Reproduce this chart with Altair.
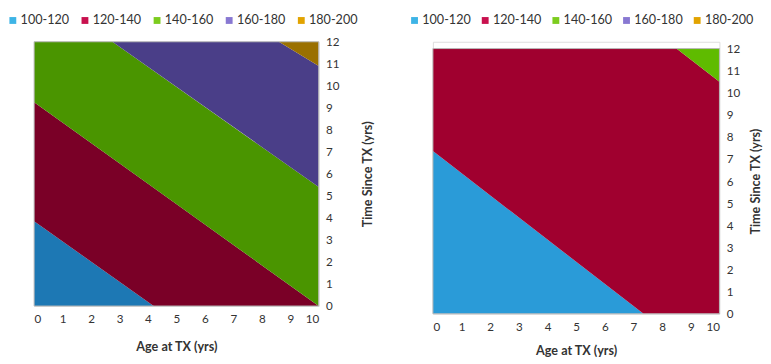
import altair as alt
import pandas as pd

CATEGORIES = ["100-120", "120-140", "140-160", "160-180", "180-200"]
LEGEND_COLORS = ["#3db4e6", "#c8104e", "#7ccc1e", "#8878d2", "#e2a300"]

# Left panel: band polygons as (x, lower, upper) vertices in data units
L_BAND = ["100-120", "100-120",
          "120-140", "120-140", "120-140",
          "140-160", "140-160", "140-160",
          "160-180", "160-180", "160-180",
          "180-200", "180-200"]
L_X = [0, 4.2,
       0, 4.2, 10,
       0, 2.75, 10,
       2.75, 8.6, 10,
       8.6, 10]
L_LO = [0, 0,
        3.85, 0, 0,
        9.25, 6.71, 0,
        12, 6.68, 5.4,
        12, 10.9]
L_HI = [3.85, 0,
        9.25, 5.37, 0,
        12, 12, 5.4,
        12, 12, 10.9,
        12, 12]
L_FILLS = ["#1d78b4", "#7a0027", "#4a9500", "#4a3e88", "#9a7000"]

# Right panel
R_BAND = ["100-120", "100-120",
          "120-140", "120-140", "120-140", "120-140",
          "140-160", "140-160"]
R_X = [0, 7.35,
       0, 7.35, 8.5, 10,
       8.5, 10]
R_LO = [0, 0,
        7.36, 0, 0, 0,
        12, 10.5]
R_HI = [7.36, 0,
        12, 12, 12, 10.5,
        12, 12]
R_FILLS = ["#2a9bd8", "#a0002f", "#5fbb00"]

X_TICKS = list(range(0, 11))
Y_TICKS = list(range(0, 13))
X_DOMAIN = [0, 10]
Y_DOMAIN = [0, 12]

FONT = "Lato"
TXT = "#333333"


def panel(bands, xs, los, his, fills, w, h, y_range, leg_range, leg_y,
          y_title_pad, x_title_pad):
    df = pd.DataFrame({"band": bands, "x": xs, "lo": los, "hi": his})
    dom = [c for c in CATEGORIES if c in set(bands)]
    xscale = alt.Scale(domain=X_DOMAIN, nice=False, zero=False)
    yscale = alt.Scale(domain=Y_DOMAIN, nice=False, zero=False, range=y_range)
    x_axis = alt.Axis(values=X_TICKS, ticks=False, domain=False, grid=False,
                      labelOverlap=False,
                      labelPadding=8, labelFontSize=12, labelColor=TXT,
                      labelFont=FONT, title="Age at TX (yrs)",
                      titleFont=FONT, titleFontSize=13, titleFontWeight="bold",
                      titleColor=TXT, titlePadding=x_title_pad)
    y_axis = alt.Axis(orient="right", values=Y_TICKS, ticks=False, domain=False,
                      grid=False, labelOverlap=False, labelPadding=7,
                      labelFontSize=12, labelColor=TXT, labelFont=FONT,
                      title="Time Since TX (yrs)", titleAngle=270,
                      titleBaseline="top",
                      titleFont=FONT, titleFontSize=13, titleFontWeight="bold",
                      titleColor=TXT, titlePadding=y_title_pad)
    areas = alt.Chart(df).mark_area(interpolate="linear").encode(
        x=alt.X("x:Q", scale=xscale, axis=x_axis),
        y=alt.Y("hi:Q", scale=yscale, axis=y_axis),
        y2="lo:Q",
        fill=alt.Fill("band:N", scale=alt.Scale(domain=dom, range=fills), legend=None),
        detail="band:N",
    )
    border = alt.Chart(pd.DataFrame({"k": [0]})).mark_rect(
        fill=None, stroke="#b8b8b8", strokeWidth=1
    ).encode(
        x=alt.XDatum(X_DOMAIN[0], scale=xscale, axis=x_axis),
        x2=alt.X2Datum(X_DOMAIN[1]),
        y=alt.YDatum(Y_DOMAIN[0], scale=yscale, axis=y_axis),
        y2=alt.Y2Datum(Y_DOMAIN[1]),
    )
    plot = alt.layer(areas, border)

    leg_df = pd.DataFrame({"band": CATEGORIES})
    leg_x = alt.X("band:N", sort=CATEGORIES,
                  scale=alt.Scale(type="point", domain=CATEGORIES, range=leg_range,
                                  padding=0),
                  axis=None)
    leg_sym = alt.Chart(leg_df).mark_square(size=50, opacity=1).encode(
        x=leg_x,
        y=alt.value(leg_y),
        color=alt.Color("band:N",
                        scale=alt.Scale(domain=CATEGORIES, range=LEGEND_COLORS),
                        legend=None),
    )
    leg_txt = alt.Chart(leg_df).mark_text(
        align="left", baseline="middle", dx=8, fontSize=13, font=FONT, color=TXT
    ).encode(x=leg_x, y=alt.value(leg_y), text="band:N")
    legend = alt.layer(leg_sym, leg_txt)
    return alt.layer(plot, legend).resolve_scale(x="independent").properties(
        width=w, height=h)


left = panel(L_BAND, L_X, L_LO, L_HI, L_FILLS, 294, 273, [273, 0],
             [-22, 276], -22, 24, 17)
right = panel(R_BAND, R_X, R_LO, R_HI, R_FILLS, 296, 281, [281, 7],
              [-19, 273], -22, 10, 13)

chart = alt.hconcat(left, right, spacing=35).resolve_scale(
    fill="independent", color="independent"
).properties(
    padding={"left": 0, "top": 0, "right": 0, "bottom": 0}
).configure_view(stroke=None).configure(background="white")

chart.save("out.html", embed_options={"renderer": "svg", "actions": False})
